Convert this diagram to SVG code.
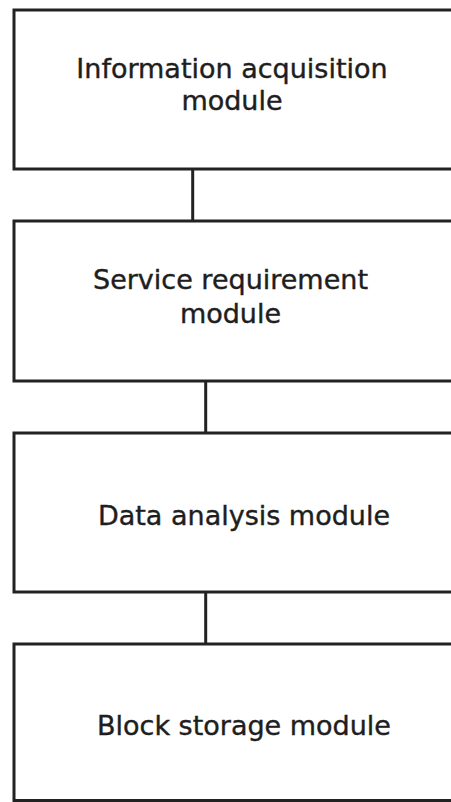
<svg xmlns="http://www.w3.org/2000/svg" width="451" height="802" viewBox="0 0 451 802">
  <style>
    .box { fill: #ffffff; stroke: #222222; stroke-width: 3; }
    .link { stroke: #222222; stroke-width: 3; fill: none; }
    .label { font-family: "DejaVu Sans", "Liberation Sans", sans-serif; font-size: 27px; fill: #1e1e1e; stroke: #1e1e1e; stroke-width: 0.4; text-anchor: middle; }
  </style>
  <rect x="0" y="0" width="451" height="802" fill="#ffffff"/>

  <!-- connectors between stacked modules -->
  <g id="connectors">
    <line class="link" x1="192.7" y1="169" x2="192.7" y2="221"/>
    <line class="link" x1="205.7" y1="381" x2="205.7" y2="433"/>
    <line class="link" x1="205.7" y1="592" x2="205.7" y2="644"/>
  </g>

  <g id="info-acquisition">
    <rect class="box" x="14" y="10" width="460" height="159"/>
    <text class="label" x="232" y="78">Information acquisition</text>
    <text class="label" x="232" y="110">module</text>
  </g>

  <g id="service-requirement">
    <rect class="box" x="14" y="221" width="460" height="160"/>
    <text class="label" x="230.5" y="289">Service requirement</text>
    <text class="label" x="230.5" y="323">module</text>
  </g>

  <g id="data-analysis">
    <rect class="box" x="14" y="433" width="460" height="159"/>
    <text class="label" x="244" y="525">Data analysis module</text>
  </g>

  <g id="block-storage">
    <rect class="box" x="14" y="644" width="460" height="156.5"/>
    <text class="label" x="244" y="735">Block storage module</text>
  </g>
</svg>
